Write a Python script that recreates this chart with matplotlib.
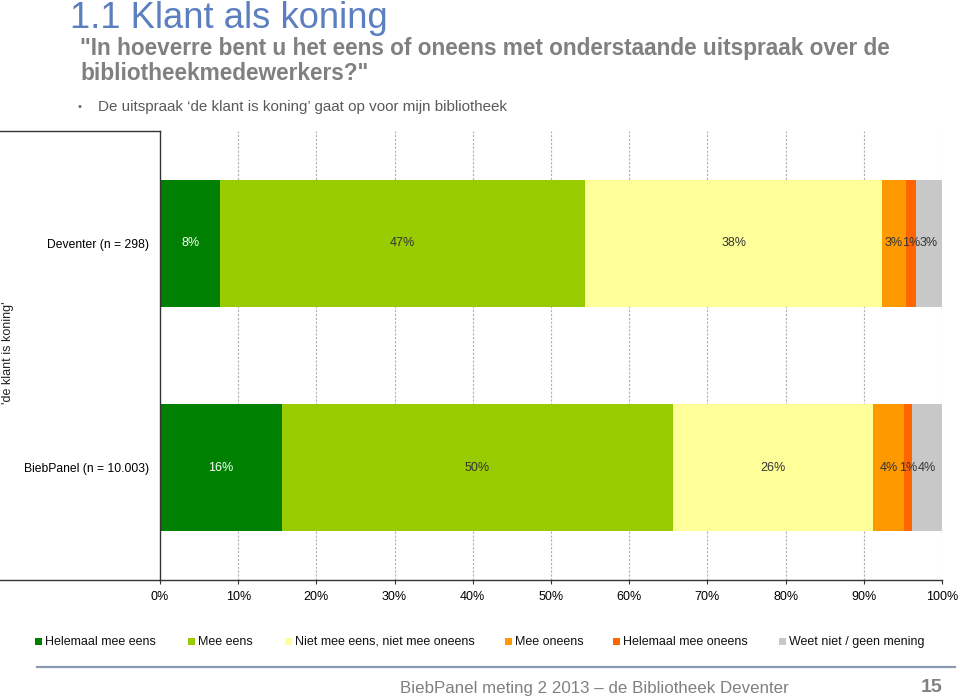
import matplotlib
matplotlib.use("Agg")
import matplotlib.pyplot as plt
from matplotlib.patches import Rectangle
from matplotlib.lines import Line2D
import numpy as np

categories = ["Helemaal mee eens", "Mee eens", "Niet mee eens, niet mee oneens",
              "Mee oneens", "Helemaal mee oneens", "Weet niet / geen mening"]
groups = ["Deventer (n = 298)", "BiebPanel (n = 10.003)"]
deventer = [7.7, 46.7, 37.9, 3.1, 1.3, 3.3]
biebpanel = [15.6, 50.0, 25.6, 4.0, 0.9, 3.9]
labels_deventer = ["8%", "47%", "38%", "3%", "1%", "3%"]
labels_biebpanel = ["16%", "50%", "26%", "4%", "1%", "4%"]
xticks = [0, 10, 20, 30, 40, 50, 60, 70, 80, 90, 100]
xticklabels = [f"{v}%" for v in xticks]

colors = ["#008000", "#99CC00", "#FFFF99", "#FF9900", "#FF6600", "#C8C8C8"]
text_colors = ["white", "#333333", "#333333", "#333333", "#333333", "#333333"]

W, H = 960, 699
fig = plt.figure(figsize=(W / 100, H / 100), dpi=100)
fig.patch.set_facecolor("white")

SANS = ["Liberation Sans", "DejaVu Sans"]

ax = fig.add_axes([160 / W, 1 - 580 / H, (942 - 160) / W, (580 - 131) / H])
values = [deventer, biebpanel]
ylocs = [1, 0]
labels_all = [labels_deventer, labels_biebpanel]
for yv, vals, labs in zip(ylocs, values, labels_all):
    left = 0.0
    for i, v in enumerate(vals):
        ax.barh(yv, v, left=left, height=0.565, color=colors[i], edgecolor="none", zorder=2)
        ax.text(left + v / 2, yv, labs[i], ha="center", va="center",
                fontsize=9, color=text_colors[i], family=SANS, zorder=3)
        left += v

ax.set_xlim(0, 100)
ax.set_ylim(-0.5, 1.5)
ax.set_xticks(xticks)
ax.set_xticklabels(xticklabels, fontsize=9, family=SANS)
ax.set_yticks(ylocs)
ax.set_yticklabels(groups, fontsize=8.7, family=SANS)
ax.tick_params(axis="y", length=0, pad=8)
ax.tick_params(axis="x", length=3, direction="out", pad=5, color="#333333")
for xv in xticks[1:]:
    ax.axvline(xv, color="#B0B0B0", linestyle=(0, (2, 1.5)), linewidth=0.8, zorder=1)
for s in ["top", "right"]:
    ax.spines[s].set_visible(False)
ax.spines["left"].set_color("#333333")
ax.spines["bottom"].set_color("#333333")
ax.spines["left"].set_linewidth(1.0)
ax.spines["bottom"].set_linewidth(1.0)

# extended frame lines to the left
ext = -160 / (942 - 160)
ax.add_line(Line2D([ext, 0], [0, 0], transform=ax.transAxes, color="#333333",
                   linewidth=1.0, clip_on=False))
ax.add_line(Line2D([ext, 0], [1, 1], transform=ax.transAxes, color="#333333",
                   linewidth=1.0, clip_on=False))

fig.text(8 / W, 1 - 353 / H, "'de klant is koning'", rotation=90, ha="center",
         va="center", fontsize=9, family=SANS, color="#222222")

# Titles
fig.text(70 / W, 1 - 19 / H, "1.1 Klant als koning", fontsize=26.2, color="#5B7FBF",
         family=SANS, ha="left", va="center")
fig.text(80 / W, 1 - 48 / H,
         "\"In hoeverre bent u het eens of oneens met onderstaande uitspraak over de",
         fontsize=16.3, color="#808080", family=SANS, fontweight="bold", ha="left", va="center")
fig.text(80 / W, 1 - 73 / H, "bibliotheekmedewerkers?\"",
         fontsize=16.3, color="#808080", family=SANS, fontweight="bold", ha="left", va="center")
fig.text(77 / W, 1 - 107 / H, "•", fontsize=8, color="#666666", family=SANS,
         ha="left", va="center")
fig.text(98 / W, 1 - 107 / H,
         "De uitspraak \u2018de klant is koning\u2019 gaat op voor mijn bibliotheek",
         fontsize=10.9, color="#595959", family=SANS, ha="left", va="center")

# Legend
leg_x = [35, 188, 285, 505, 613, 779]
for xp, cat, col in zip(leg_x, categories, colors):
    fig.patches.append(Rectangle((xp / W, 1 - 645 / H), 7 / W, 7 / H, transform=fig.transFigure,
                                 facecolor=col, edgecolor="none"))
    fig.text((xp + 10) / W, 1 - 642 / H, cat, fontsize=9, family=SANS, color="#111111",
             ha="left", va="center")

# Footer
fig.add_artist(Line2D([37 / W, 955 / W], [1 - 667 / H, 1 - 667 / H], color="#8A9AB0",
                      linewidth=1.6, transform=fig.transFigure))
fig.text(400 / W, 1 - 688 / H, "BiebPanel meting 2 2013 \u2013 de Bibliotheek Deventer",
         fontsize=12.2, color="#808080", family=SANS, ha="left", va="center")
fig.text(942 / W, 1 - 688 / H, "15", fontsize=14, color="#808080", family=SANS,
         fontweight="bold", ha="right", va="center")

fig.savefig("out.png", dpi=100, facecolor="white")
